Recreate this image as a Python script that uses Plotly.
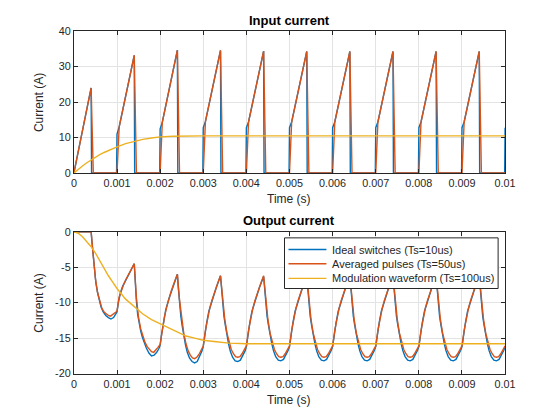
import plotly.graph_objects as go

# ---------------- data ----------------
cycle_starts = [0.000, 0.001, 0.002, 0.003, 0.004, 0.005, 0.006, 0.007, 0.008, 0.009]
t_end = 0.010

# Input current, ideal switches (Ts=10us): phases in ms relative to cycle start
in_ideal_phase_ms = [-0.01, 0.0, 0.05, 0.40, 0.41]
in_jump = [0.0, 11.0, 12.5, 12.8, 12.8, 12.8, 12.8, 12.8, 12.8, 12.8]
in_knee = [3.0, 13.0, 14.3, 14.5, 14.4, 14.4, 14.4, 14.4, 14.4, 14.4]
in_peak = [24.0, 33.2, 34.7, 34.6, 34.4, 34.3, 34.3, 34.3, 34.3, 34.3]
in_jump_end = 12.8

# Input current, averaged pulses (Ts=50us)
in_avg_phase_ms = [0.0, 0.05, 0.40, 0.45]

# Input current, modulation waveform (Ts=100us)
in_mod_t = [0, 0.0001, 0.0002, 0.0003, 0.0004, 0.0005, 0.0006, 0.0007, 0.0008, 0.0009,
            0.0010, 0.0012, 0.0014, 0.0016, 0.0018, 0.0020, 0.0023, 0.0026, 0.0030,
            0.0040, 0.0050, 0.0060, 0.0070, 0.0080, 0.0090, 0.0100]
in_mod_v = [0.0, 1.1, 2.0, 2.9, 3.7, 4.5, 5.2, 5.8, 6.4, 6.9,
            7.4, 8.3, 9.0, 9.5, 9.9, 10.2, 10.4, 10.5, 10.5,
            10.5, 10.5, 10.5, 10.5, 10.5, 10.5, 10.5]

# Output current, ideal switches (Ts=10us)
out_ideal_phase_ms = [0, 0.03, 0.08, 0.13, 0.20, 0.30, 0.40, 0.42, 0.45, 0.48,
                      0.51, 0.55, 0.59, 0.63, 0.68, 0.74, 0.80, 0.86, 0.92, 0.97]
out_ideal_rows = [
    [0, 0, 0, 0, 0, 0, 0, -1.5, -3.8, -5.6, -7.2, -8.6, -9.8, -10.6, -11.3, -11.8, -12.1, -12.3, -12.1, -11.7],
    [-11.3, -10.0, -8.6, -7.7, -6.8, -5.7, -4.5, -7.0, -9.8, -11.7, -12.8, -14.0, -14.9, -15.6, -16.4, -17.1, -17.5, -17.4, -17.0, -16.5],
    [-16.0, -14.6, -12.6, -11.0, -9.5, -7.7, -6.0, -7.8, -10.1, -11.9, -13.2, -14.7, -16.0, -17.0, -17.8, -18.3, -18.5, -18.3, -17.6, -16.8],
    [-16.2, -14.8, -12.8, -11.2, -9.7, -7.9, -6.2, -8.0, -10.2, -11.9, -13.1, -14.6, -15.9, -16.9, -17.7, -18.2, -18.3, -18.1, -17.5, -16.8],
    [-16.2, -14.8, -12.8, -11.2, -9.7, -7.9, -6.3, -8.0, -10.2, -11.9, -13.1, -14.6, -15.8, -16.8, -17.6, -18.1, -18.2, -18.0, -17.4, -16.7],
    [-16.2, -14.8, -12.8, -11.2, -9.7, -7.9, -6.3, -8.0, -10.2, -11.9, -13.1, -14.6, -15.8, -16.8, -17.6, -18.1, -18.2, -18.0, -17.4, -16.7],
    [-16.2, -14.8, -12.8, -11.2, -9.7, -7.9, -6.3, -8.0, -10.2, -11.9, -13.1, -14.6, -15.8, -16.8, -17.6, -18.1, -18.2, -18.0, -17.4, -16.7],
    [-16.2, -14.8, -12.8, -11.2, -9.7, -7.9, -6.3, -8.0, -10.2, -11.9, -13.1, -14.6, -15.8, -16.8, -17.6, -18.1, -18.2, -18.0, -17.4, -16.7],
    [-16.2, -14.8, -12.8, -11.2, -9.7, -7.9, -6.3, -8.0, -10.2, -11.9, -13.1, -14.6, -15.8, -16.8, -17.6, -18.1, -18.2, -18.0, -17.4, -16.7],
    [-16.2, -14.8, -12.8, -11.2, -9.7, -7.9, -6.3, -8.0, -10.2, -11.9, -13.1, -14.6, -15.8, -16.8, -17.6, -18.1, -18.2, -18.0, -17.4, -16.7],
]
out_ideal_end = -16.2

# Output current, averaged pulses (Ts=50us)
out_avg_phase_ms = [0, 0.05, 0.10, 0.15, 0.20, 0.25, 0.30, 0.35, 0.40, 0.45,
                    0.50, 0.55, 0.60, 0.65, 0.70, 0.75, 0.80, 0.85, 0.90, 0.95]
out_avg_rows = [
    [0, 0, 0, 0, 0, 0, 0, 0, 0, -3.4, -6.6, -8.6, -9.9, -10.8, -11.3, -11.6, -11.8, -11.9, -11.7, -11.4],
    [-11.2, -9.2, -8.2, -7.5, -6.8, -6.2, -5.7, -5.1, -4.5, -9.3, -12.1, -13.7, -14.8, -15.6, -16.2, -16.6, -16.9, -17.0, -16.7, -16.3],
    [-15.9, -13.8, -12.0, -10.7, -9.5, -8.5, -7.6, -6.8, -6.0, -9.6, -12.4, -14.4, -15.8, -16.8, -17.4, -17.8, -17.9, -17.7, -17.3, -16.7],
    [-16.1, -13.9, -12.1, -10.8, -9.7, -8.7, -7.8, -7.0, -6.2, -9.7, -12.4, -14.3, -15.6, -16.6, -17.2, -17.6, -17.7, -17.6, -17.2, -16.6],
    [-16.1, -13.9, -12.1, -10.8, -9.7, -8.7, -7.8, -7.0, -6.2, -9.7, -12.4, -14.3, -15.6, -16.6, -17.2, -17.6, -17.7, -17.6, -17.2, -16.6],
    [-16.1, -13.9, -12.1, -10.8, -9.7, -8.7, -7.8, -7.0, -6.2, -9.7, -12.4, -14.3, -15.6, -16.6, -17.2, -17.6, -17.7, -17.6, -17.2, -16.6],
    [-16.1, -13.9, -12.1, -10.8, -9.7, -8.7, -7.8, -7.0, -6.2, -9.7, -12.4, -14.3, -15.6, -16.6, -17.2, -17.6, -17.7, -17.6, -17.2, -16.6],
    [-16.1, -13.9, -12.1, -10.8, -9.7, -8.7, -7.8, -7.0, -6.2, -9.7, -12.4, -14.3, -15.6, -16.6, -17.2, -17.6, -17.7, -17.6, -17.2, -16.6],
    [-16.1, -13.9, -12.1, -10.8, -9.7, -8.7, -7.8, -7.0, -6.2, -9.7, -12.4, -14.3, -15.6, -16.6, -17.2, -17.6, -17.7, -17.6, -17.2, -16.6],
    [-16.1, -13.9, -12.1, -10.8, -9.7, -8.7, -7.8, -7.0, -6.2, -9.7, -12.4, -14.3, -15.6, -16.6, -17.2, -17.6, -17.7, -17.6, -17.2, -16.6],
]
out_avg_end = -16.1

# Output current, modulation waveform (Ts=100us)
out_mod_t = [0, 0.0001, 0.0002, 0.0003, 0.0004, 0.0005, 0.0006, 0.0007, 0.0008, 0.0009,
             0.0010, 0.0012, 0.0014, 0.0016, 0.0018, 0.0020, 0.0022, 0.0024, 0.0026,
             0.0028, 0.0030, 0.0033, 0.0036, 0.0040, 0.0050, 0.0060, 0.0070, 0.0080,
             0.0090, 0.0100]
out_mod_v = [0.0, -0.2, -0.7, -1.4, -2.1, -3.0, -4.1, -5.2, -6.2, -7.1,
             -8.0, -9.5, -10.6, -11.6, -12.4, -13.0, -13.6, -14.2, -14.7,
             -15.0, -15.3, -15.5, -15.7, -15.8, -15.8, -15.8, -15.8, -15.8,
             -15.8, -15.8]

x_tick_vals = [0, 0.001, 0.002, 0.003, 0.004, 0.005, 0.006, 0.007, 0.008, 0.009, 0.01]
x_tick_text = ["0", "0.001", "0.002", "0.003", "0.004", "0.005", "0.006", "0.007", "0.008", "0.009", "0.01"]
y_top_ticks = [0, 10, 20, 30, 40]
y_bot_ticks = [-20, -15, -10, -5, 0]

names = ["Ideal switches (Ts=10us)", "Averaged pulses (Ts=50us)", "Modulation waveform (Ts=100us)"]
colors = ["#0072BD", "#D95319", "#EDB120"]

# ---------------- build the sample tables ----------------
def ms(p):
    return p * 1e-3

in_ideal_t, in_ideal_v = [], []
in_avg_t, in_avg_v = [], []
for i, t0 in enumerate(cycle_starts):
    vals = [0.0, in_jump[i], in_knee[i], in_peak[i], 0.0]
    for p, v in zip(in_ideal_phase_ms, vals):
        if t0 + ms(p) >= 0:
            in_ideal_t.append(t0 + ms(p)); in_ideal_v.append(v)
    vals_a = [0.0, in_knee[i], in_peak[i], 0.0]
    for p, v in zip(in_avg_phase_ms, vals_a):
        in_avg_t.append(t0 + ms(p)); in_avg_v.append(v)
in_ideal_t += [t_end - 1e-5, t_end]; in_ideal_v += [0.0, in_jump_end]
in_avg_t += [t_end]; in_avg_v += [0.0]

out_ideal_t, out_ideal_v = [], []
out_avg_t, out_avg_v = [], []
for i, t0 in enumerate(cycle_starts):
    for p, v in zip(out_ideal_phase_ms, out_ideal_rows[i]):
        out_ideal_t.append(t0 + ms(p)); out_ideal_v.append(v)
    for p, v in zip(out_avg_phase_ms, out_avg_rows[i]):
        out_avg_t.append(t0 + ms(p)); out_avg_v.append(v)
out_ideal_t.append(t_end); out_ideal_v.append(out_ideal_end)
out_avg_t.append(t_end); out_avg_v.append(out_avg_end)

# ---------------- figure ----------------
fig = go.Figure()
lw = 1.4
fig.add_trace(go.Scatter(x=in_ideal_t, y=in_ideal_v, mode="lines", name=names[0],
                         line=dict(color=colors[0], width=lw), showlegend=False, xaxis="x", yaxis="y"))
fig.add_trace(go.Scatter(x=in_avg_t, y=in_avg_v, mode="lines", name=names[1],
                         line=dict(color=colors[1], width=lw), showlegend=False, xaxis="x", yaxis="y"))
fig.add_trace(go.Scatter(x=in_mod_t, y=in_mod_v, mode="lines", name=names[2],
                         line=dict(color=colors[2], width=lw), showlegend=False, xaxis="x", yaxis="y"))
fig.add_trace(go.Scatter(x=out_ideal_t, y=out_ideal_v, mode="lines", name=names[0],
                         line=dict(color=colors[0], width=lw), showlegend=False, xaxis="x2", yaxis="y2"))
fig.add_trace(go.Scatter(x=out_avg_t, y=out_avg_v, mode="lines", name=names[1],
                         line=dict(color=colors[1], width=lw), showlegend=False, xaxis="x2", yaxis="y2"))
fig.add_trace(go.Scatter(x=out_mod_t, y=out_mod_v, mode="lines", name=names[2],
                         line=dict(color=colors[2], width=lw), showlegend=False, xaxis="x2", yaxis="y2"))

# Layout is specified in window pixels of the target picture and converted to
# paper fractions (figure 544x404, placed after the page's 8px body margin;
# the photographed page maps with a slight scale/offset measured earlier).
W, H = 544, 404
SX, AX = 0.976, 2.2
SY, AY = 0.958, 8.3
OFF = 8

def px(sx):
    return ((sx - AX) / SX - OFF) / W

def py(sy):
    return 1 - ((sy - AY) / SY - OFF) / H

x_dom = [px(73), px(505)]
top_dom = [py(173), py(33)]
bot_dom = [py(371), py(231)]

FONT = "Liberation Sans, Arial"
INK = "#262626"
axis_common = dict(showline=True, linecolor=INK, linewidth=1, mirror="ticks",
                   ticks="inside", ticklen=4, tickcolor=INK,
                   showgrid=True, gridcolor="#e3e3e3", gridwidth=1, zeroline=False,
                   tickfont=dict(family=FONT, size=10.8, color=INK))

fig.update_layout(
    width=W, height=H,
    margin=dict(l=0, r=0, t=0, b=0),
    paper_bgcolor="white", plot_bgcolor="white",
    font=dict(family=FONT, size=10.8, color=INK),
    xaxis=dict(domain=x_dom, anchor="y", range=[0, 0.01], tickmode="array",
               tickvals=x_tick_vals, ticktext=x_tick_text, **axis_common),
    yaxis=dict(domain=top_dom, anchor="x", range=[0, 40], tickmode="array",
               tickvals=y_top_ticks, ticktext=[str(v) for v in y_top_ticks], **axis_common),
    xaxis2=dict(domain=x_dom, anchor="y2", range=[0, 0.01], tickmode="array",
                tickvals=x_tick_vals, ticktext=x_tick_text, **axis_common),
    yaxis2=dict(domain=bot_dom, anchor="x2", range=[-20, 0], tickmode="array",
                tickvals=y_bot_ticks, ticktext=[str(v) for v in y_bot_ticks], **axis_common),
    showlegend=False,
)

# MATLAB-style compact legend box in the output-current axes
leg_left, leg_right, leg_top, leg_bottom = 284, 498, 237, 287
row_y = [248.5, 262.5, 277]
shapes = [dict(type="rect", xref="paper", yref="paper", layer="above",
               x0=px(leg_left), x1=px(leg_right), y0=py(leg_bottom), y1=py(leg_top),
               fillcolor="white", line=dict(color=INK, width=1))]
for c, ry in zip(colors, row_y):
    shapes.append(dict(type="line", xref="paper", yref="paper", layer="above",
                       x0=px(288), x1=px(326), y0=py(ry), y1=py(ry),
                       line=dict(color=c, width=lw)))

title_font = dict(family=FONT, size=13, color="#000000")
label_font = dict(family=FONT, size=12, color=INK)
legend_font = dict(family=FONT, size=11, color=INK)
annotations = [
    dict(text="<b>Input current</b>", x=px(289), y=py(22), xref="paper", yref="paper",
         showarrow=False, xanchor="center", yanchor="middle", font=title_font),
    dict(text="<b>Output current</b>", x=px(289), y=py(220), xref="paper", yref="paper",
         showarrow=False, xanchor="center", yanchor="middle", font=title_font),
    dict(text="Time (s)", x=px(289), y=py(199), xref="paper", yref="paper",
         showarrow=False, xanchor="center", yanchor="middle", font=label_font),
    dict(text="Time (s)", x=px(289), y=py(397), xref="paper", yref="paper",
         showarrow=False, xanchor="center", yanchor="middle", font=label_font),
    dict(text="Current (A)", x=px(38), y=py(103), xref="paper", yref="paper", textangle=-90,
         showarrow=False, xanchor="center", yanchor="middle", font=label_font),
    dict(text="Current (A)", x=px(38), y=py(301), xref="paper", yref="paper", textangle=-90,
         showarrow=False, xanchor="center", yanchor="middle", font=label_font),
]
for nm, ry in zip(names, row_y):
    annotations.append(dict(text=nm, x=px(330), y=py(ry), xref="paper", yref="paper",
                            showarrow=False, xanchor="left", yanchor="middle", font=legend_font))
fig.update_layout(annotations=annotations, shapes=shapes)

fig.write_html("out.html")
